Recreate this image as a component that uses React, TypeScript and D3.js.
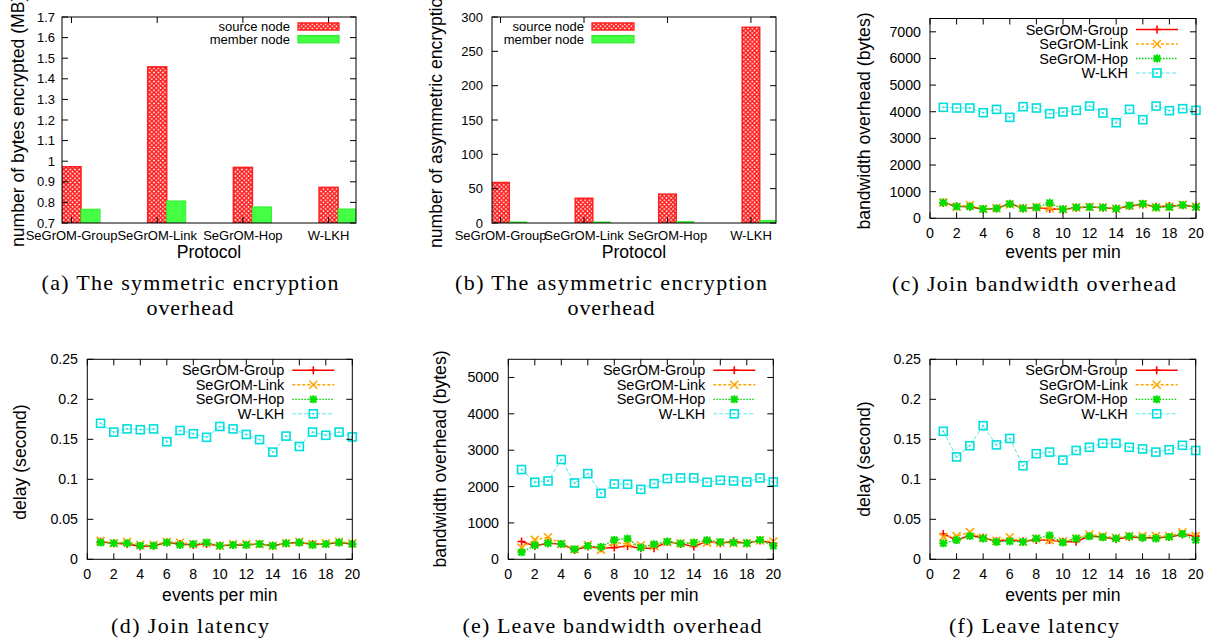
import React from "react";
import * as d3 from "d3";

// ---------- data ----------
const protocols = ["SeGrOM-Group", "SeGrOM-Link", "SeGrOM-Hop", "W-LKH"];
const barSeries = ["source node", "member node"];
const symSource = [0.973, 1.458, 0.97, 0.873];
const symMember = [0.767, 0.807, 0.778, 0.768];
const asymSource = [59, 36, 42, 285];
const asymMember = [1.5, 1.5, 2, 3.5];
const symYTicks = [0.7, 0.8, 0.9, 1.0, 1.1, 1.2, 1.3, 1.4, 1.5, 1.6, 1.7];
const asymYTicks = [0, 50, 100, 150, 200, 250, 300];

const lineSeries = ["SeGrOM-Group", "SeGrOM-Link", "SeGrOM-Hop", "W-LKH"];
const events = [1, 2, 3, 4, 5, 6, 7, 8, 9, 10, 11, 12, 13, 14, 15, 16, 17, 18, 19, 20];
const eventXTicks = [0, 2, 4, 6, 8, 10, 12, 14, 16, 18, 20];
const joinBwYTicks = [0, 1000, 2000, 3000, 4000, 5000, 6000, 7000];
const leaveBwYTicks = [0, 1000, 2000, 3000, 4000, 5000];
const delayYTicks = [0, 0.05, 0.1, 0.15, 0.2, 0.25];

const joinBwGroup = [580, 450, 430, 340, 370, 550, 380, 400, 360, 330, 400, 420, 400, 360, 460, 520, 430, 460, 490, 430];
const joinBwLink = [600, 430, 500, 350, 380, 520, 380, 420, 380, 340, 410, 430, 410, 370, 470, 530, 410, 440, 510, 440];
const joinBwHop = [590, 440, 440, 350, 370, 540, 370, 410, 580, 340, 410, 420, 410, 360, 480, 550, 410, 420, 500, 420];
const joinBwWlkh = [4165, 4140, 4140, 3964, 4090, 3789, 4190, 4140, 3927, 3990, 4052, 4215, 3952, 3588, 4090, 3701, 4215, 4040, 4115, 4052];

const joinLatGroup = [0.022, 0.02, 0.019, 0.016, 0.017, 0.021, 0.019, 0.018, 0.019, 0.017, 0.018, 0.018, 0.019, 0.017, 0.02, 0.021, 0.019, 0.019, 0.021, 0.019];
const joinLatLink = [0.023, 0.02, 0.022, 0.018, 0.018, 0.022, 0.021, 0.019, 0.02, 0.017, 0.019, 0.019, 0.019, 0.017, 0.02, 0.022, 0.019, 0.02, 0.022, 0.02];
const joinLatHop = [0.021, 0.02, 0.02, 0.017, 0.017, 0.021, 0.018, 0.019, 0.021, 0.017, 0.018, 0.018, 0.019, 0.017, 0.02, 0.021, 0.018, 0.019, 0.021, 0.019];
const joinLatWlkh = [0.17, 0.159, 0.163, 0.162, 0.163, 0.147, 0.161, 0.157, 0.1525, 0.166, 0.163, 0.156, 0.1496, 0.134, 0.154, 0.141, 0.159, 0.155, 0.159, 0.153];

const leaveBwGroup = [488, 368, 442, 424, 258, 350, 304, 322, 368, 304, 304, 479, 424, 350, 497, 442, 497, 442, 516, 442];
const leaveBwLink = [322, 534, 608, 424, 276, 396, 258, 460, 424, 387, 368, 470, 442, 442, 460, 460, 442, 442, 516, 488];
const leaveBwHop = [193, 387, 442, 424, 276, 368, 341, 534, 571, 322, 414, 488, 433, 460, 525, 479, 460, 442, 534, 368];
const leaveBwWlkh = [2468, 2118, 2155, 2744, 2099, 2357, 1814, 2072, 2063, 1924, 2081, 2219, 2238, 2238, 2118, 2173, 2155, 2127, 2238, 2127];

const leaveLatGroup = [0.0317, 0.024, 0.03, 0.027, 0.0225, 0.024, 0.0225, 0.024, 0.024, 0.022, 0.022, 0.029, 0.028, 0.025, 0.028, 0.027, 0.027, 0.028, 0.031, 0.029];
const leaveLatLink = [0.028, 0.029, 0.034, 0.027, 0.023, 0.0275, 0.022, 0.026, 0.024, 0.0225, 0.026, 0.031, 0.029, 0.027, 0.029, 0.029, 0.029, 0.029, 0.0337, 0.029];
const leaveLatHop = [0.02, 0.024, 0.029, 0.026, 0.0217, 0.0225, 0.0217, 0.026, 0.03, 0.021, 0.026, 0.0287, 0.0275, 0.026, 0.0287, 0.027, 0.026, 0.028, 0.0317, 0.024];
const leaveLatWlkh = [0.16, 0.128, 0.142, 0.167, 0.143, 0.151, 0.117, 0.132, 0.134, 0.124, 0.136, 0.14, 0.145, 0.145, 0.14, 0.138, 0.134, 0.137, 0.1425, 0.136];

// ---------- styles ----------
const SANS = "'Liberation Sans', Arial, Helvetica, sans-serif";
const SERIF = "'Liberation Serif', 'Times New Roman', serif";
const lineStyles = [
  { color: "#ff0000", lineColor: "#ff0000", width: 1.5, dash: undefined as string | undefined, marker: "plus" },
  { color: "#ffa500", lineColor: "#ffa500", width: 1.5, dash: "3,2", marker: "cross" },
  { color: "#00e000", lineColor: "#00d000", width: 1.3, dash: "1.5,1.5", marker: "star" },
  { color: "#00dede", lineColor: "#5ee8e8", width: 1, dash: "4,2", marker: "square" },
];

const fmt = (v: number) => String(+v.toFixed(3));

function Marker({ kind, x, y, color }: { kind: string; x: number; y: number; color: string }) {
  const s = 4;
  if (kind === "plus")
    return <path d={`M${x - s},${y}H${x + s}M${x},${y - s}V${y + s}`} stroke={color} strokeWidth={1.6} fill="none" />;
  if (kind === "cross")
    return <path d={`M${x - s},${y - s}L${x + s},${y + s}M${x - s},${y + s}L${x + s},${y - s}`} stroke={color} strokeWidth={1.6} fill="none" />;
  if (kind === "star")
    return (
      <path
        d={`M${x - s},${y}H${x + s}M${x},${y - s}V${y + s}M${x - s + 0.8},${y - s + 0.8}L${x + s - 0.8},${y + s - 0.8}M${x - s + 0.8},${y + s - 0.8}L${x + s - 0.8},${y - s + 0.8}`}
        stroke={color}
        strokeWidth={2}
        fill="none"
      />
    );
  return (
    <g>
      <rect x={x - 4} y={y - 4} width={8} height={8} fill="white" fillOpacity={0} stroke={color} strokeWidth={1.6} />
      <rect x={x - 0.8} y={y - 0.8} width={1.6} height={1.6} fill={color} />
    </g>
  );
}

type Box = { l: number; r: number; t: number; b: number };

function Frame({ box }: { box: Box }) {
  return <rect x={box.l} y={box.t} width={box.r - box.l} height={box.b - box.t} fill="none" stroke="#000" strokeWidth={1} />;
}

function Caption({ lines, cx, y0, lens }: { lines: string[]; cx: number; y0: number; lens: number[] }) {
  return (
    <g>
      {lines.map((t, i) => (
        <text
          key={i}
          x={cx}
          y={y0 + i * 24.5}
          textAnchor="middle"
          fontFamily={SERIF}
          fontSize={22}
          textLength={lens[i]}
          lengthAdjust="spacing"
          fill="#000"
        >
          {t}
        </text>
      ))}
    </g>
  );
}

function BarPanel(props: {
  box: Box;
  xDomain: [number, number];
  barW: number;
  yDomain: [number, number];
  yTicks: number[];
  source: number[];
  member: number[];
  tickRight: number;
  ylabel: string;
  ylabelX: number;
  ylabelY: number;
  legTextRight: number;
  legBox: [number, number];
  patternId: string;
  caption: string[];
  captionLens: number[];
  captionX: number;
}) {
  const { box } = props;
  const x = d3.scaleLinear().domain(props.xDomain).range([box.l, box.r]);
  const y = d3.scaleLinear().domain(props.yDomain).range([box.b, box.t]);
  const w = props.barW;
  const clipId = props.patternId + "-clip";
  const rowY = [box.t + 9.5, box.t + 22.2];
  return (
    <g>
      <defs>
        <clipPath id={clipId}>
          <rect x={box.l} y={box.t} width={box.r - box.l} height={box.b - box.t} />
        </clipPath>
        <pattern id={props.patternId} patternUnits="userSpaceOnUse" width={4.4} height={4.4}>
          <rect width={4.4} height={4.4} fill="#fff" />
          <path d="M0,0L4.4,4.4M4.4,0L0,4.4" stroke="#ff1a1a" strokeWidth={1.5} />
        </pattern>
      </defs>
      <g clipPath={`url(#${clipId})`}>
        {protocols.map((p, i) => {
          const x0 = x(i - w / 2);
          const x1 = x(i + w / 2);
          const x2 = x(i + (3 * w) / 2);
          return (
            <g key={p}>
              <rect x={x0} y={y(props.source[i])} width={x1 - x0} height={box.b - y(props.source[i])} fill={`url(#${props.patternId})`} stroke="#ff2020" strokeWidth={1.5} />
              <rect x={x1} y={y(props.member[i])} width={x2 - x1} height={box.b - y(props.member[i])} fill="#44ff44" stroke="#33ee33" strokeWidth={1} />
            </g>
          );
        })}
      </g>
      <Frame box={box} />
      {props.yTicks.map((t) => (
        <g key={t}>
          <path d={`M${box.l},${y(t)}h6M${box.r},${y(t)}h-6`} stroke="#000" />
          <text x={props.tickRight} y={y(t) + 4.6} textAnchor="end" fontFamily={SANS} fontSize={13} fill="#000">
            {fmt(t)}
          </text>
        </g>
      ))}
      {protocols.map((p, i) => (
        <g key={p}>
          <path d={`M${x(i)},${box.t}v6M${x(i)},${box.b}v-6`} stroke="#000" />
          <text x={x(i)} y={240} textAnchor="middle" fontFamily={SANS} fontSize={13} fill="#000">
            {p}
          </text>
        </g>
      ))}
      <text x={(box.l + box.r) / 2} y={258} textAnchor="middle" fontFamily={SANS} fontSize={17.6} fill="#000">
        Protocol
      </text>
      <text
        transform={`translate(${props.ylabelX},${props.ylabelY}) rotate(-90)`}
        textAnchor="start"
        fontFamily={SANS}
        fontSize={17.6}
        fill="#000"
      >
        {props.ylabel}
      </text>
      {barSeries.map((s, k) => (
        <g key={s}>
          <text x={props.legTextRight} y={rowY[k] + 4.6} textAnchor="end" fontFamily={SANS} fontSize={13} fill="#000">
            {s}
          </text>
          <rect
            x={props.legBox[0]}
            y={rowY[k] - 3.6}
            width={props.legBox[1] - props.legBox[0]}
            height={7.2}
            fill={k === 0 ? `url(#${props.patternId})` : "#44ff44"}
            stroke={k === 0 ? "#ff2020" : "#33ee33"}
            strokeWidth={1.3}
          />
        </g>
      ))}
      <Caption lines={props.caption} cx={props.captionX} y0={290} lens={props.captionLens} />
    </g>
  );
}

function LinePanel(props: {
  box: Box;
  yMax: number;
  yTicks: number[];
  data: number[][];
  tickRight: number;
  ylabel: string;
  ylabelX: number;
  ylabelY: number;
  xTickBase: number;
  xLabelBase: number;
  caption: string;
  captionLen: number;
  captionX: number;
  captionY: number;
}) {
  const { box } = props;
  const x = d3.scaleLinear().domain([0, 20]).range([box.l, box.r]);
  const y = d3.scaleLinear().domain([0, props.yMax]).range([box.b, box.t]);
  const line = d3
    .line<number>()
    .x((_, i) => x(events[i]))
    .y((d) => y(d));
  return (
    <g>
      {props.data.map((series, k) => {
        const st = lineStyles[k];
        return (
          <g key={k}>
            <path d={line(series) || ""} fill="none" stroke={st.lineColor} strokeWidth={st.width} strokeDasharray={st.dash} />
            {series.map((v, i) => (
              <Marker key={i} kind={st.marker} x={x(events[i])} y={y(v)} color={st.color} />
            ))}
          </g>
        );
      })}
      <Frame box={box} />
      {props.yTicks.map((t) => (
        <g key={t}>
          <path d={`M${box.l},${y(t)}h6M${box.r},${y(t)}h-6`} stroke="#000" />
          <text x={props.tickRight} y={y(t) + 5} textAnchor="end" fontFamily={SANS} fontSize={14.2} fill="#000">
            {fmt(t)}
          </text>
        </g>
      ))}
      {eventXTicks.map((t) => (
        <g key={t}>
          <path d={`M${x(t)},${box.b}v-6M${x(t)},${box.t}v6`} stroke="#000" />
          <text x={x(t)} y={props.xTickBase} textAnchor="middle" fontFamily={SANS} fontSize={14.2} fill="#000">
            {t}
          </text>
        </g>
      ))}
      <text x={(box.l + box.r) / 2} y={props.xLabelBase} textAnchor="middle" fontFamily={SANS} fontSize={17.6} fill="#000">
        events per min
      </text>
      <text
        transform={`translate(${props.ylabelX},${props.ylabelY}) rotate(-90)`}
        textAnchor="middle"
        fontFamily={SANS}
        fontSize={17.6}
        fill="#000"
      >
        {props.ylabel}
      </text>
      {lineSeries.map((name, k) => {
        const st = lineStyles[k];
        const ry = box.t + 11 + 14.5 * k;
        const lx0 = box.r - 60;
        const lx1 = box.r - 18;
        return (
          <g key={name}>
            <text x={box.r - 68} y={ry + 5} textAnchor="end" fontFamily={SANS} fontSize={14.5} fill="#000">
              {name}
            </text>
            <path d={`M${lx0},${ry}H${lx1}`} stroke={st.lineColor} strokeWidth={st.width} strokeDasharray={st.dash} />
            <Marker kind={st.marker} x={(lx0 + lx1) / 2} y={ry} color={st.color} />
          </g>
        );
      })}
      <text
        x={props.captionX}
        y={props.captionY}
        textAnchor="middle"
        fontFamily={SERIF}
        fontSize={22}
        textLength={props.captionLen}
        lengthAdjust="spacing"
        fill="#000"
      >
        {props.caption}
      </text>
    </g>
  );
}

export default function App() {
  return (
    <svg
      width={1217}
      height={643}
      viewBox="0 0 1217 643"
      style={{ position: "absolute", left: 0, top: 0, background: "#fff" }}
    >
      <rect width={1217} height={643} fill="#fff" />
      <BarPanel
        box={{ l: 62, r: 356, t: 17, b: 223 }}
        xDomain={[-0.111, 3.32]}
        barW={0.222}
        yDomain={[0.7, 1.7]}
        yTicks={symYTicks}
        source={symSource}
        member={symMember}
        tickRight={55}
        ylabel="number of bytes encrypted (MB)"
        ylabelX={24}
        ylabelY={247}
        legTextRight={290}
        legBox={[298, 339]}
        patternId="hatchA"
        caption={["(a) The symmetric encryption", "overhead"]}
        captionLens={[297, 87]}
        captionX={190}
      />
      <BarPanel
        box={{ l: 492, r: 776, t: 17, b: 223 }}
        xDomain={[-0.102, 3.3]}
        barW={0.21}
        yDomain={[0, 300]}
        yTicks={asymYTicks}
        source={asymSource}
        member={asymMember}
        tickRight={483}
        ylabel="number of asymmetric encryptions"
        ylabelX={442}
        ylabelY={248}
        legTextRight={584}
        legBox={[592, 634]}
        patternId="hatchB"
        caption={["(b) The asymmetric encryption", "overhead"]}
        captionLens={[312, 87]}
        captionX={611}
      />
      <LinePanel
        box={{ l: 930, r: 1196, t: 18.5, b: 218.3 }}
        yMax={7500}
        yTicks={joinBwYTicks}
        data={[joinBwGroup, joinBwLink, joinBwHop, joinBwWlkh]}
        tickRight={921}
        ylabel="bandwidth overhead (bytes)"
        ylabelX={870}
        ylabelY={121}
        xTickBase={238}
        xLabelBase={258}
        caption="(c) Join bandwidth overhead"
        captionLen={284}
        captionX={1034}
        captionY={291}
      />
      <LinePanel
        box={{ l: 87.3, r: 352.3, t: 359.3, b: 559.3 }}
        yMax={0.25}
        yTicks={delayYTicks}
        data={[joinLatGroup, joinLatLink, joinLatHop, joinLatWlkh]}
        tickRight={78}
        ylabel="delay (second)"
        ylabelX={26}
        ylabelY={462}
        xTickBase={579}
        xLabelBase={600.5}
        caption="(d) Join latency"
        captionLen={158}
        captionX={190}
        captionY={632.5}
      />
      <LinePanel
        box={{ l: 508.3, r: 773.3, t: 359.3, b: 559.3 }}
        yMax={5500}
        yTicks={leaveBwYTicks}
        data={[leaveBwGroup, leaveBwLink, leaveBwHop, leaveBwWlkh]}
        tickRight={499}
        ylabel="bandwidth overhead (bytes)"
        ylabelX={446}
        ylabelY={459}
        xTickBase={579}
        xLabelBase={600.5}
        caption="(e) Leave bandwidth overhead"
        captionLen={299}
        captionX={612}
        captionY={632.5}
      />
      <LinePanel
        box={{ l: 930, r: 1195.7, t: 359.3, b: 559.3 }}
        yMax={0.25}
        yTicks={delayYTicks}
        data={[leaveLatGroup, leaveLatLink, leaveLatHop, leaveLatWlkh]}
        tickRight={921}
        ylabel="delay (second)"
        ylabelX={870}
        ylabelY={459}
        xTickBase={579}
        xLabelBase={600.5}
        caption="(f) Leave latency"
        captionLen={170}
        captionX={1034}
        captionY={632.5}
      />
    </svg>
  );
}
